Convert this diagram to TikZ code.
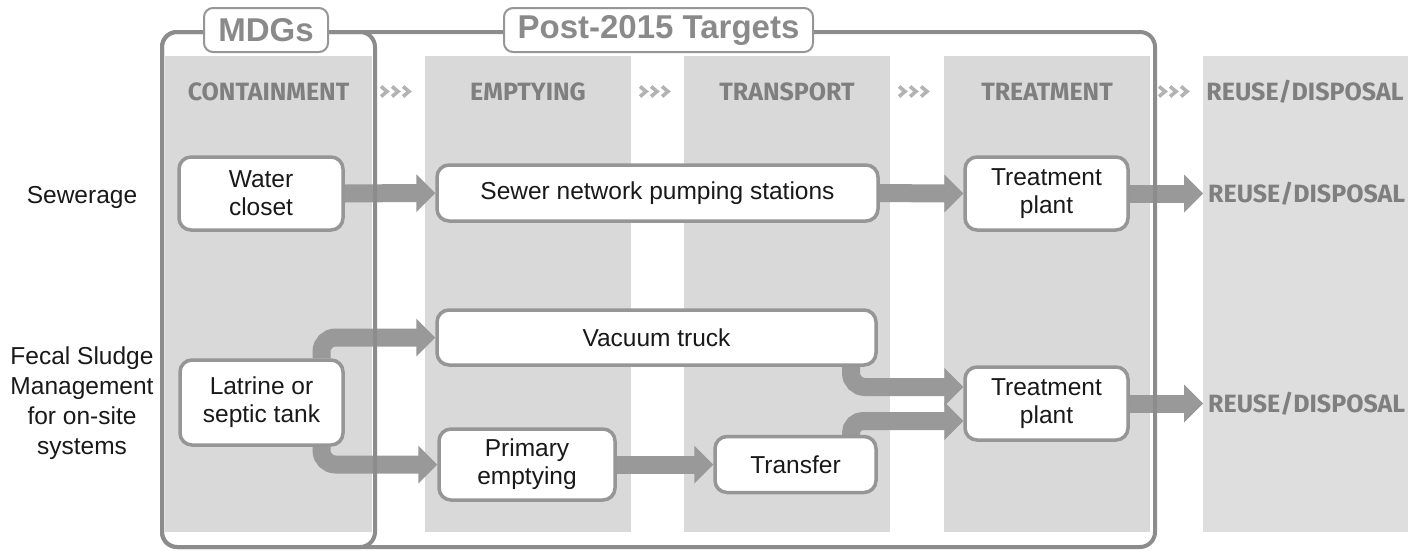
\documentclass[tikz,border=0pt]{standalone}
\usepackage{fontspec}
\setmainfont{Liberation Sans}
\newfontfamily\dinfont{Fira Sans}
\usetikzlibrary{calc}
\definecolor{panelgray}{HTML}{D9D9D9}
\definecolor{lastpanel}{HTML}{DEDEDE}
\definecolor{framegray}{HTML}{8C8C8C}
\definecolor{boxgray}{HTML}{969696}
\definecolor{flowgray}{HTML}{999999}
\definecolor{headgray}{HTML}{7F7F7F}
\definecolor{taggray}{HTML}{8A8A8A}
\definecolor{chevgray}{HTML}{B3B3B3}
\pgfdeclarelayer{panels}
\pgfdeclarelayer{flows}
\pgfsetlayers{panels,flows,main}
\newcommand\flowhead[1]{\fill[flowgray] ($(#1)+(-19,-19)$) -- (#1) -- ($(#1)+(-19,19)$) -- cycle;}
\begin{document}
\begin{tikzpicture}[x=1pt,y=-1pt,
  stagebox/.style={draw=boxgray, line width=3.5pt, fill=white, rounded corners=12pt,
    inner sep=0pt, align=center, font=\fontsize{24.5}{28}\selectfont, text=black!90},
  rowlabel/.style={align=center, inner sep=0pt, font=\fontsize{24.5}{30}\selectfont, text=black!90},
  shaft/.style={draw=flowgray, line width=18pt},
  stagehead/.style={font=\dinfont\bfseries\fontsize{25}{28}\selectfont, text=headgray, inner sep=0pt},
  tag/.style={draw=boxgray, line width=2pt, fill=white, rounded corners=9pt, inner sep=0pt,
    font=\bfseries\fontsize{33}{34}\selectfont, text=taggray},
  frame/.style={draw=framegray, line width=4pt, rounded corners=15pt},
  chev/.style={draw=chevgray, line width=3.6pt, line join=miter}]
\useasboundingbox (0,0) rectangle (1418,550);

% stage columns
\begin{pgfonlayer}{panels}
  \fill[panelgray] (165,56) rectangle (372,532);
  \fill[panelgray] (425,56) rectangle (631,532);
  \fill[panelgray] (684,56) rectangle (890,532);
  \fill[panelgray] (944,56) rectangle (1150,532);
  \fill[lastpanel] (1203,56) rectangle (1408,532);
\end{pgfonlayer}

% column headings and chevrons
\node[stagehead] (hcon) at (268.5,92) {CONTAINMENT};
\node[stagehead] (hemp) at (528,92) {EMPTYING};
\node[stagehead] (htra) at (787,92) {TRANSPORT};
\node[stagehead] (htre) at (1047,92) {TREATMENT};
\node[stagehead] (hreu) at (1305,92) {REUSE/DISPOSAL};
\foreach \cx in {381,640,899,1159}
  \foreach \k in {0,11,22}
    \draw[chev] (\cx+\k,86.5) -- (\cx+\k+6,91.5) -- (\cx+\k,96.5);

% goal frames
\draw[frame] (162,32) rectangle (1155,547);
\draw[frame] (162,32) rectangle (375,547);
\node[tag, minimum width=124pt, minimum height=44pt] (mdg) at (266,30) {MDGs};
\node[tag, minimum width=309pt, minimum height=44pt] (post) at (658.5,30) {Post-2015 Targets};

% row labels
\node[rowlabel] (rsew) at (82,197) {Sewerage};
\node[rowlabel] (rfsm) at (82,403) {Fecal Sludge\\Management\\for on-site\\systems};

% sewerage chain
\node[stagebox, minimum width=164pt, minimum height=73pt] (wc) at (261,193.5) {Water\\closet};
\node[stagebox, minimum width=441pt, minimum height=56pt] (sewer) at (657.5,193) {Sewer network pumping stations};
\node[stagebox, minimum width=163pt, minimum height=73pt] (tp1) at (1046.5,193.5) {Treatment\\plant};
\node[stagehead, anchor=west, inner xsep=5pt] (reu1) at (1203,193.5) {REUSE/DISPOSAL};

% fecal sludge chain
\node[stagebox, minimum width=163pt, minimum height=85pt] (lat) at (261.5,402.5) {Latrine or\\septic tank};
\node[stagebox, minimum width=439pt, minimum height=55pt] (vac) at (656.5,337.5) {Vacuum truck};
\node[stagebox, minimum width=176pt, minimum height=71pt] (prim) at (527,464.5) {Primary\\emptying};
\node[stagebox, minimum width=161pt, minimum height=56pt] (trans) at (795.5,464.5) {Transfer};
\node[stagebox, minimum width=163pt, minimum height=73pt] (tp2) at (1046.5,403.5) {Treatment\\plant};
\node[stagehead, anchor=west, inner xsep=5pt] (reu2) at (1203,403.5) {REUSE/DISPOSAL};

\coordinate (in1) at ($(tp2.west)+(0,-16.5)$);
\coordinate (in2) at ($(tp2.west)+(0,17.5)$);

% flow arrows
\begin{pgfonlayer}{flows}
  \draw[shaft] (wc.east) -- ($(sewer.west)+(-18,0)$);
  \flowhead{sewer.west}
  \draw[shaft] (sewer.east) -- ($(tp1.west)+(-18,0)$);
  \flowhead{tp1.west}
  \draw[shaft] (tp1.east) -- ($(reu1.west)+(-18,0)$);
  \flowhead{reu1.west}
  \draw[shaft, rounded corners=14pt] ($(lat.north)+(60,0)$) |- ($(vac.west)+(-18,0)$);
  \flowhead{vac.west}
  \draw[shaft, rounded corners=14pt] ($(lat.south)+(60,0)$) |- ($(prim.west)+(-18,0)$);
  \flowhead{prim.west}
  \draw[shaft] (prim.east) -- ($(trans.west)+(-18,0)$);
  \flowhead{trans.west}
  \draw[shaft, rounded corners=14pt] ($(vac.south)+(194.5,0)$) |- ($(in1)+(-18,0)$);
  \flowhead{in1}
  \draw[shaft, rounded corners=12pt] ($(trans.north)+(55.5,0)$) |- ($(in2)+(-18,0)$);
  \flowhead{in2}
  \draw[shaft] (tp2.east) -- ($(reu2.west)+(-18,0)$);
  \flowhead{reu2.west}
\end{pgfonlayer}
\end{tikzpicture}
\end{document}
